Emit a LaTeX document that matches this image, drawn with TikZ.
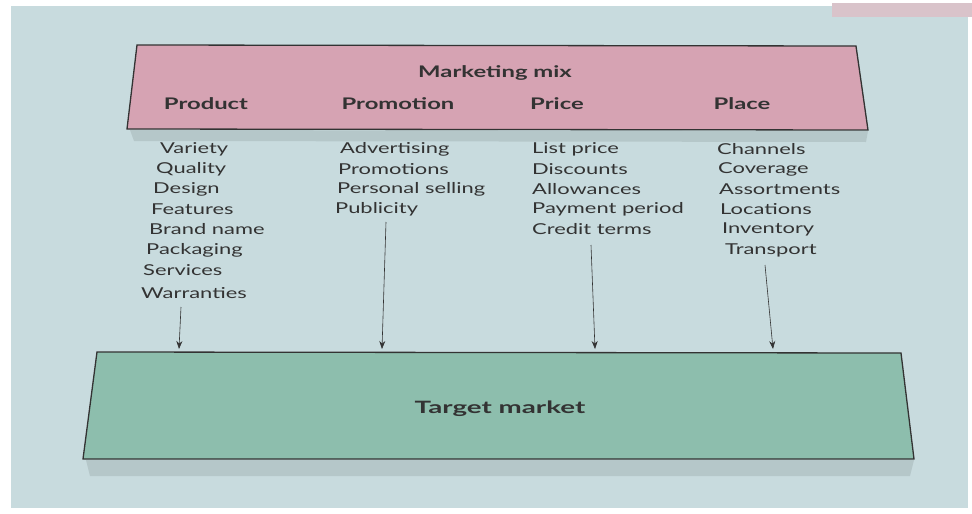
\documentclass[tikz,border=0pt]{standalone}
\usepackage{graphicx}
\usepackage{fontspec}
\setmainfont{Lato}
\usetikzlibrary{arrows.meta}
\definecolor{bg}{HTML}{C8DBDE}
\definecolor{pinkbox}{HTML}{D6A3B3}
\definecolor{pinkstrip}{HTML}{D9C3CA}
\definecolor{greenbox}{HTML}{8DBEAD}
\definecolor{ink}{HTML}{333333}
\newcommand{\stretchtxt}[1]{\scalebox{1.46}[1]{#1}}
\newcommand{\stretchhead}[1]{\scalebox{1.49}[1]{#1}}
\newcommand{\stretchbig}[1]{\scalebox{1.63}[1]{#1}}
\begin{document}
\begin{tikzpicture}[x=1pt,y=-1pt,
  head/.style={font=\fontsize{16}{19}\selectfont\bfseries, text=ink, inner sep=0pt},
  bighead/.style={font=\fontsize{17}{20}\selectfont\bfseries, text=ink, inner sep=0pt},
  item/.style={font=\fontsize{15}{18}\selectfont, text=ink, anchor=west, inner sep=0pt},
  arr/.style={-{Stealth[length=8pt,width=6pt]}, draw=ink, line width=0.6pt},
  boxline/.style={draw=ink, line width=1.3pt, line join=miter}]
\useasboundingbox (0,0) rectangle (972,514);
\fill[white] (0,0) rectangle (972,514);
\fill[bg] (11,6) rectangle (968,508);
\fill[pinkstrip] (832,3) rectangle (972,17);
% shadows
\fill[black, opacity=0.09] (130,130) -- (868,131) -- (866,142) -- (134,141) -- cycle;
\fill[black, opacity=0.09] (86,460) -- (914,460) -- (910,476) -- (90,476) -- cycle;
% boxes
\path[boxline, fill=pinkbox] (137,45) -- (856,46) -- (868,130) -- (127,129) -- cycle;
\path[boxline, fill=greenbox] (97,352) -- (901,353) -- (914,459) -- (83,459) -- cycle;
% headings
\node[head] (mm) at (495,73) {\stretchhead{Marketing mix}};
\node[head] (hprod) at (206,104) {\stretchhead{Product}};
\node[head] (hprom) at (398,104) {\stretchhead{Promotion}};
\node[head] (hprice) at (557,104) {\stretchhead{Price}};
\node[head] (hplace) at (742,104) {\stretchhead{Place}};
\node[bighead] (tm) at (500,409) {\stretchbig{Target market}};
% product items
\node[item] (p1) at (160,149) {\stretchtxt{Variety}};
\node[item] (p2) at (156,169) {\stretchtxt{Quality}};
\node[item] (p3) at (153,189) {\stretchtxt{Design}};
\node[item] (p4) at (151,209) {\stretchtxt{Features}};
\node[item] (p5) at (149,229) {\stretchtxt{Brand name}};
\node[item] (p6) at (146,250) {\stretchtxt{Packaging}};
\node[item] (p7) at (143,270) {\stretchtxt{Services}};
\node[item] (p8) at (141,293) {\stretchtxt{Warranties}};
% promotion items
\node[item] (q1) at (340,149) {\stretchtxt{Advertising}};
\node[item] (q2) at (338,169) {\stretchtxt{Promotions}};
\node[item] (q3) at (337,189) {\stretchtxt{Personal selling}};
\node[item] (q4) at (335,209) {\stretchtxt{Publicity}};
% price items
\node[item] (r1) at (532,149) {\stretchtxt{List price}};
\node[item] (r2) at (532,169) {\stretchtxt{Discounts}};
\node[item] (r3) at (532,189) {\stretchtxt{Allowances}};
\node[item] (r4) at (532,209) {\stretchtxt{Payment period}};
\node[item] (r5) at (532,229) {\stretchtxt{Credit terms}};
% place items
\node[item] (s1) at (717,149) {\stretchtxt{Channels}};
\node[item] (s2) at (718,169) {\stretchtxt{Coverage}};
\node[item] (s3) at (719,189) {\stretchtxt{Assortments}};
\node[item] (s4) at (720,209) {\stretchtxt{Locations}};
\node[item] (s5) at (722,229) {\stretchtxt{Inventory}};
\node[item] (s6) at (725,250) {\stretchtxt{Transport}};
% arrows
\coordinate (a1s) at (181,307); \coordinate (a1e) at (179,349);
\coordinate (a2s) at (386,222); \coordinate (a2e) at (382,349);
\coordinate (a3s) at (591,245); \coordinate (a3e) at (595,349);
\coordinate (a4s) at (765,265); \coordinate (a4e) at (773,349);
\draw[arr] (a1s) -- (a1e);
\draw[arr] (a2s) -- (a2e);
\draw[arr] (a3s) -- (a3e);
\draw[arr] (a4s) -- (a4e);
\end{tikzpicture}
\end{document}
